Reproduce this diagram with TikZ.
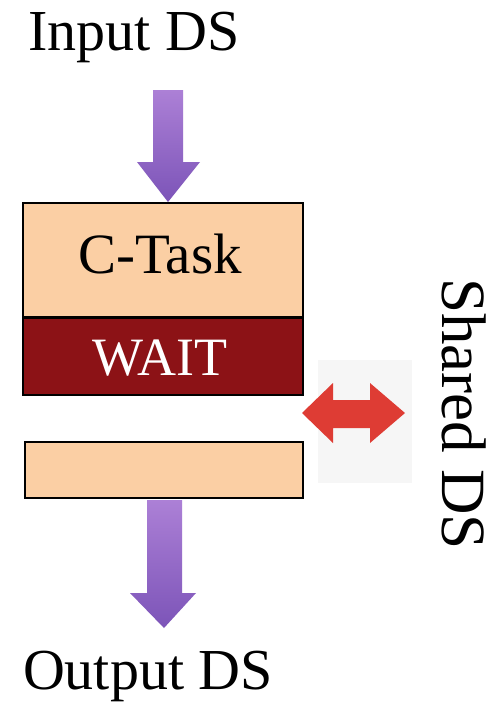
\documentclass[tikz,border=0pt]{standalone}
\usepackage{fontspec}
\setmainfont{Liberation Serif}
\usetikzlibrary{shadings}
\definecolor{peach}{RGB}{251,207,164}
\definecolor{waitred}{RGB}{140,18,22}
\definecolor{purpleA}{RGB}{172,128,214}
\definecolor{purpleB}{RGB}{124,84,184}
\definecolor{redarrow}{RGB}{222,60,52}
\definecolor{faintgray}{RGB}{246,246,246}
\begin{document}
\begin{tikzpicture}[x=1pt,y=-1pt,
  box/.style={draw=black,line width=1.5pt,minimum width=280pt,inner sep=0pt},
  lbl/.style={anchor=base,inner sep=0pt,font=\fontsize{58}{60}\selectfont},
  blockarrow/.style={top color=purpleA,bottom color=purpleB,draw=none}]
\useasboundingbox (0,0) rectangle (501,705);
\fill[white] (0,0) rectangle (501,705);
% labels
\node[lbl] (in) at (134,50) {Input DS};
\node[lbl] (out) at (148,689) {Output DS};
% boxes
\node[box,fill=peach,minimum height=114pt] (ctask) at (163,260) {};
\node[box,fill=waitred,minimum height=78pt] (wait) at (163,356) {};
\draw[line width=3pt] (ctask.south west) -- (ctask.south east);
\node[box,fill=peach,minimum width=278pt,minimum height=56pt] (bot) at (164,470) {};
\node[lbl,font=\fontsize{57}{60}\selectfont] (ct) at (160,273) {C-Task};
\node[lbl,text=white,font=\fontsize{54}{58}\selectfont] (wt) at (160,375) {WAIT};
% top arrow
\path[blockarrow] (153,90) -- (183,90) -- (183,162) -- (200,162) -- (168,202) -- (137,162) -- (153,162) -- cycle;
% bottom arrow
\path[blockarrow] (147,500) -- (182,500) -- (182,593) -- (196,593) -- (164,628) -- (130,593) -- (147,593) -- cycle;
% shared area
\fill[faintgray] (318,360) rectangle (412,483);
\fill[redarrow] (302,413) -- (333,383) -- (333,400) -- (370,400) -- (370,383) -- (405,413) -- (370,443) -- (370,428) -- (333,428) -- (333,443) -- cycle;
\node[lbl,rotate=-90,anchor=center,font=\fontsize{63}{66}\selectfont] (sh) at (464,414) {Shared DS};
\end{tikzpicture}
\end{document}
